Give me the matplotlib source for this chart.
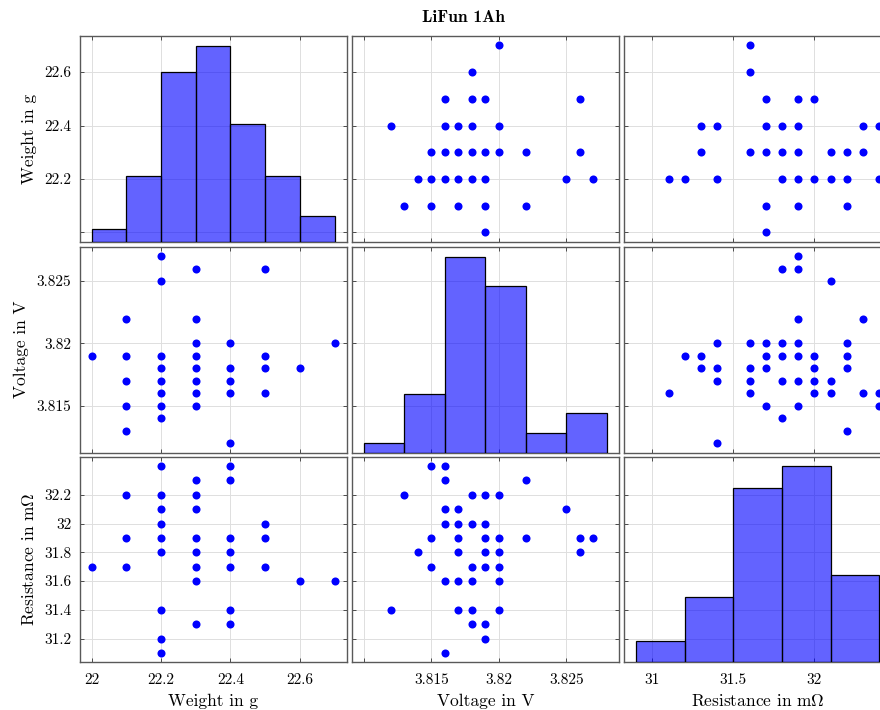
# -*- coding:utf-8 -*-
# plotmatrix style chart: LiFun 1Ah cells (weight, voltage, resistance)

import matplotlib
matplotlib.use("Agg")
import matplotlib.pyplot as plt
import numpy as np

plt.rcParams['font.family'] = ['cmr10', 'DejaVu Sans']
plt.rcParams['mathtext.fontset'] = 'cm'
plt.rcParams['axes.formatter.use_mathtext'] = True

# ---- data ----
names = ['Weight in g', 'Voltage in V', r'Resistance in m$\Omega$']

# weight / voltage pairs
wv_w = [22.0,
        22.1, 22.1, 22.1, 22.1, 22.1,
        22.2, 22.2, 22.2, 22.2, 22.2, 22.2, 22.2, 22.2,
        22.3, 22.3, 22.3, 22.3, 22.3, 22.3, 22.3, 22.3,
        22.4, 22.4, 22.4, 22.4, 22.4,
        22.5, 22.5, 22.5, 22.5,
        22.6,
        22.7]
wv_v = [3.819,
        3.822, 3.819, 3.817, 3.815, 3.813,
        3.827, 3.825, 3.819, 3.818, 3.817, 3.816, 3.815, 3.814,
        3.826, 3.822, 3.820, 3.819, 3.818, 3.817, 3.816, 3.815,
        3.820, 3.818, 3.817, 3.816, 3.812,
        3.826, 3.819, 3.818, 3.816,
        3.818,
        3.820]

# weight / resistance pairs
wr_w = [22.0,
        22.1, 22.1, 22.1,
        22.2, 22.2, 22.2, 22.2, 22.2, 22.2, 22.2, 22.2, 22.2,
        22.3, 22.3, 22.3, 22.3, 22.3, 22.3, 22.3, 22.3,
        22.4, 22.4, 22.4, 22.4, 22.4, 22.4, 22.4,
        22.5, 22.5, 22.5,
        22.6,
        22.7]
wr_r = [31.7,
        32.2, 31.9, 31.7,
        32.4, 32.2, 32.1, 32.0, 31.9, 31.8, 31.4, 31.2, 31.1,
        32.3, 32.2, 32.1, 31.9, 31.8, 31.7, 31.6, 31.3,
        32.4, 32.3, 31.9, 31.8, 31.7, 31.4, 31.3,
        32.0, 31.9, 31.7,
        31.6,
        31.6]

# voltage / resistance pairs
vr_v = [3.815, 3.816,
        3.816, 3.822,
        3.813, 3.818, 3.819, 3.820,
        3.816, 3.817, 3.825,
        3.816, 3.817, 3.818, 3.819,
        3.815, 3.817, 3.819, 3.820, 3.822, 3.826, 3.827,
        3.814, 3.817, 3.819, 3.820, 3.826,
        3.815, 3.818, 3.819, 3.820,
        3.816, 3.817, 3.818, 3.820,
        3.812, 3.817, 3.818, 3.820,
        3.818, 3.819,
        3.819,
        3.816]
vr_r = [32.4, 32.4,
        32.3, 32.3,
        32.2, 32.2, 32.2, 32.2,
        32.1, 32.1, 32.1,
        32.0, 32.0, 32.0, 32.0,
        31.9, 31.9, 31.9, 31.9, 31.9, 31.9, 31.9,
        31.8, 31.8, 31.8, 31.8, 31.8,
        31.7, 31.7, 31.7, 31.7,
        31.6, 31.6, 31.6, 31.6,
        31.4, 31.4, 31.4, 31.4,
        31.3, 31.3,
        31.2,
        31.1]

# histograms (bin edges + counts)
w_edges = [22.0, 22.1, 22.2, 22.3, 22.4, 22.5, 22.6, 22.7]
w_counts = [1, 5, 13, 15, 9, 5, 2]
v_edges = [3.810, 3.813, 3.816, 3.819, 3.822, 3.825, 3.828]
v_counts = [1, 6, 20, 17, 2, 4]
r_edges = [30.9, 31.2, 31.5, 31.8, 32.1, 32.4]
r_counts = [2, 6, 16, 18, 8]

# ticks
w_ticks = [22.0, 22.2, 22.4, 22.6]
w_ticklabels = ['22', '22.2', '22.4', '22.6']
v_ticks = [3.810, 3.815, 3.820, 3.825]
v_ticklabels = ['', '3.815', '3.82', '3.825']
r_xticks = [31.0, 31.5, 32.0]
r_xticklabels = ['31', '31.5', '32']
r_yticks = [31.2, 31.4, 31.6, 31.8, 32.0, 32.2]
r_yticklabels = ['31.2', '31.4', '31.6', '31.8', '32', '32.2']
w_yticklabels = ['', '22.2', '22.4', '22.6']

# ---- layout ----
W, H = 880, 710
fig = plt.figure(figsize=(8.8, 7.1), dpi=100)
col_left = [79.5, 351.8, 624.1]
col_w = 267.2
row_top = [36.0, 246.8, 456.6]
row_h = 205.8

pairs = {
    (0, 1): (wv_v, wv_w), (1, 0): (wv_w, wv_v),
    (0, 2): (wr_r, wr_w), (2, 0): (wr_w, wr_r),
    (1, 2): (vr_r, vr_v), (2, 1): (vr_v, vr_r),
}
hists = [(w_edges, w_counts), (v_edges, v_counts), (r_edges, r_counts)]
xticks = [(w_ticks, w_ticklabels), (v_ticks, v_ticklabels), (r_xticks, r_xticklabels)]
yticks = [(w_ticks, w_yticklabels), (v_ticks[1:], v_ticklabels[1:]), (r_yticks, r_yticklabels)]
ydata = [wv_w, wv_v, wr_r]


def lim(lo, hi):
    d = hi - lo
    return lo - 0.05 * d, hi + 0.05 * d


xlims = [lim(e[0], e[-1]) for e, c in hists]
ylims = [lim(min(d), max(d)) for d in ydata]

for i in range(3):
    for j in range(3):
        rect = [col_left[j] / W, 1 - (row_top[i] + row_h) / H, col_w / W, row_h / H]
        ax = fig.add_axes(rect)
        ax.set_xlim(*xlims[j])
        ax.set_ylim(*ylims[i])
        ax.set_xticks(xticks[j][0])
        ax.set_yticks(yticks[i][0])
        if i == 2:
            ax.set_xticklabels(xticks[j][1])
            ax.set_xlabel(names[j], fontsize=12.5, labelpad=5)
        else:
            ax.set_xticklabels([])
        if j == 0:
            ax.set_yticklabels(yticks[i][1])
            ax.set_ylabel(names[i], fontsize=12.5, labelpad=5)
        else:
            ax.set_yticklabels([])
        ax.grid(True, color='#dedede', lw=0.7)
        ax.set_axisbelow(True)
        ax.tick_params(direction='in', length=3, width=0.6, top=True, right=True,
                       labelsize=11, color='0.2', pad=6)
        ax.tick_params(axis='x', pad=7.5)
        for s in ax.spines.values():
            s.set_color('0.35')
            s.set_linewidth(1.0)

        if i == j:
            edges, counts = hists[i]
            hx = fig.add_axes(rect, sharex=ax)
            hx.bar(edges[:-1], counts, width=np.diff(edges), align='edge',
                   facecolor=(0, 0, 1, 0.61), edgecolor='k', linewidth=0.9)
            hx.set_ylim(0, max(counts) * 1.05)
            hx.axis('off')
            hx.set_xlim(*xlims[j])
        else:
            x, y = pairs[(i, j)]
            ax.plot(x, y, 'o', color=(0, 0, 1), ms=5.8, mew=0, clip_on=True)

fig.text(464 / W, 1 - 17.5 / H, 'LiFun 1Ah', ha='center', va='center',
         fontsize=12.5, family=['cmb10', 'DejaVu Sans'])

plt.savefig('out.png', dpi=100)
